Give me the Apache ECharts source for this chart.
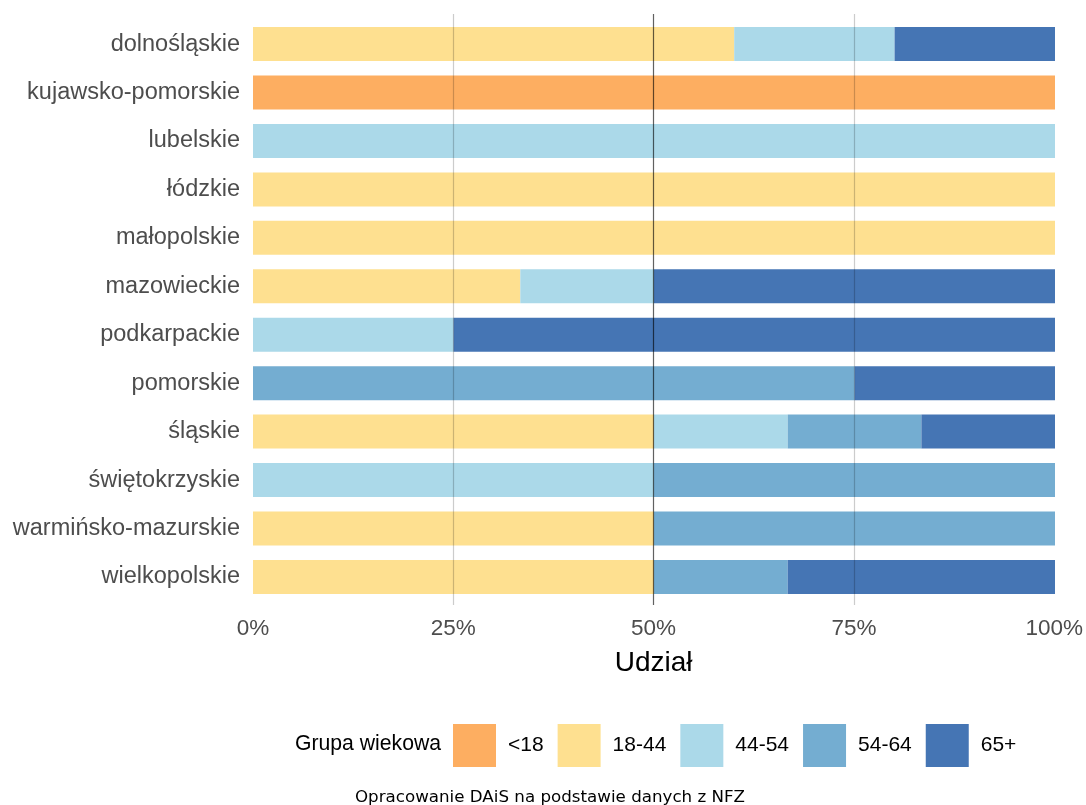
<!DOCTYPE html>
<html>
<head>
<meta charset="utf-8">
<script src="https://cdn.jsdelivr.net/npm/echarts@6/dist/echarts.min.js"></script>
<style>
html,body{margin:0;padding:0;background:#fff;}
#chart{width:1086px;height:805px;}
</style>
</head>
<body>
<div id="chart"></div>
<script>
const categories = ['dolnośląskie','kujawsko-pomorskie','lubelskie','łódzkie','małopolskie','mazowieckie','podkarpackie','pomorskie','śląskie','świętokrzyskie','warmińsko-mazurskie','wielkopolskie'];
const groups = ['<18','18-44','44-54','54-64','65+'];
const colors = ['#FDAE61','#FEE090','#ABD9E9','#74ADD1','#4575B4'];
const under18  = [0,100,0,0,0,0,0,0,0,0,0,0];
const age18_44 = [60,0,0,100,100,33.33,0,0,50,0,50,50];
const age44_54 = [20,0,100,0,0,16.67,25,0,16.67,50,0,0];
const age54_64 = [0,0,0,0,0,0,0,75,16.67,50,50,16.67];
const age65p   = [20,0,0,0,0,50,75,25,16.67,0,0,33.33];
const xTicks = [0,25,50,75,100];
const xTitle = 'Udział';
const legendTitle = 'Grupa wiekowa';
const caption = 'Opracowanie DAiS na podstawie danych z NFZ';

const seriesData = [under18, age18_44, age44_54, age54_64, age65p];
const band = 591 / 12.2;
const chart = echarts.init(document.getElementById('chart'), null, {renderer:'canvas'});
const font = '"Liberation Sans", Arial, sans-serif';

chart.setOption({
  animation: false,
  backgroundColor: '#fff',
  grid: [
    {left: 253, right: 31, top: 14, height: 591},
    {left: 253, right: 31, top: 15 + 0.1 * band, height: 12 * band}
  ],
  xAxis: [
    {
      gridIndex: 0, type: 'value', min: xTicks[0], max: xTicks[xTicks.length-1], interval: 25, z: 10,
      axisLine: {show: false}, axisTick: {show: false},
      axisLabel: {formatter: v => v + '%', fontSize: 22.5, color: '#4d4d4d', fontFamily: font, margin: 12},
      splitLine: {show: true, lineStyle: {color: ['rgba(0,0,0,0)','rgba(0,0,0,0.2)','rgba(0,0,0,0.62)','rgba(0,0,0,0.2)','rgba(0,0,0,0)'], width: 1.2}},
      name: xTitle, nameLocation: 'middle', nameGap: 44,
      nameTextStyle: {fontSize: 28, color: '#000', fontFamily: font}
    },
    {gridIndex: 1, type: 'value', min: 0, max: 100, show: false}
  ],
  yAxis: [
    {gridIndex: 0, type: 'value', min: 0, max: 1, show: false},
    {
      gridIndex: 1, type: 'category', data: categories, inverse: true,
      axisLine: {show: false}, axisTick: {show: false}, splitLine: {show: false},
      axisLabel: {fontSize: 23.5, color: '#4d4d4d', fontFamily: font, margin: 13}
    }
  ],
  legend: {
    left: 453, top: 724, padding: 0, itemWidth: 43, itemHeight: 43, itemGap: 14,
    icon: 'rect', data: groups,
    textStyle: {fontSize: 21, color: '#000', fontFamily: font, padding: [0,0,0,7]}
  },
  graphic: [
    {type: 'text', left: 295, top: 734, style: {text: legendTitle, fontSize: 21.2, fill: '#000', fontFamily: font}},
    {type: 'text', x: 550, y: 798, style: {text: caption, fontSize: 16.7, fill: '#000', fontFamily: '"DejaVu Sans", sans-serif', align: 'center', verticalAlign: 'middle'}}
  ],
  series: groups.map((g, i) => ({
    name: g, type: 'bar', stack: 'total', xAxisIndex: 1, yAxisIndex: 1,
    barWidth: 34, data: seriesData[i],
    itemStyle: {color: colors[i]}
  }))
});
</script>
</body>
</html>
